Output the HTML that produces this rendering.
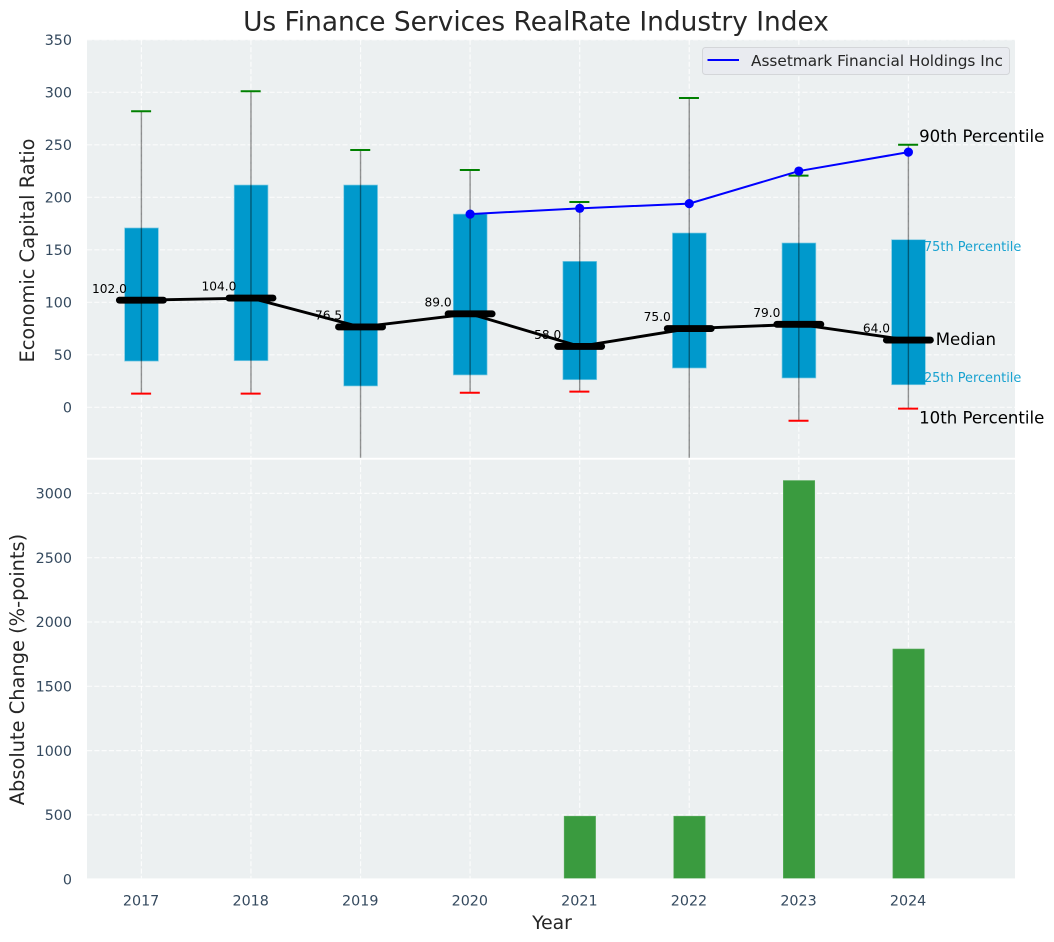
<!DOCTYPE html>
<html lang="en">
<head>
<meta charset="utf-8">
<title>Us Finance Services RealRate Industry Index</title>
<style>
html,body{margin:0;padding:0;background:#fff;}
body{width:1054px;height:942px;overflow:hidden;}
svg{display:block;font-family:"DejaVu Sans","Liberation Sans",sans-serif;}
</style>
</head>
<body>
<svg id="chart" xmlns="http://www.w3.org/2000/svg" width="1054" height="942" viewBox="0 0 1054 942">
  <defs>
    <clipPath id="top-clip"><rect x="87" y="39.8" width="928" height="418"></rect></clipPath>
    <clipPath id="bottom-clip"><rect x="87" y="459.7" width="928" height="418.7"></rect></clipPath>
  </defs>
  <rect x="87" y="39.8" width="928" height="418" fill="#ecf0f1"></rect>
  <rect x="87" y="459.7" width="928" height="418.7" fill="#ecf0f1"></rect>
  <g id="top-grid" clip-path="url(#top-clip)"></g>
  <g id="bottom-grid" clip-path="url(#bottom-clip)"></g>
  <g id="bars" clip-path="url(#bottom-clip)"></g>
  <g id="boxes" clip-path="url(#top-clip)"></g>
  <g id="whiskers" clip-path="url(#top-clip)"></g>
  <g id="median-labels"></g>
  <g id="median-series" clip-path="url(#top-clip)"></g>
  <g id="company-series" clip-path="url(#top-clip)"></g>
  <g id="ticks"></g>
  <g id="annotations"></g>

  <text x="536" y="30.5" text-anchor="middle" font-size="26.4px" fill="#262626">Us Finance Services RealRate Industry Index</text>
  <text transform="translate(34,250.5) rotate(-90)" text-anchor="middle" font-size="19.4px" fill="#262626">Economic Capital Ratio</text>
  <text transform="translate(24,669.5) rotate(-90)" text-anchor="middle" font-size="19.4px" fill="#262626">Absolute Change (%-points)</text>
  <text x="552" y="929" text-anchor="middle" font-size="18.8px" fill="#262626">Year</text>

  <g>
    <rect x="702.5" y="47.5" width="307" height="27" rx="3" ry="3" fill="#e9ebf0" stroke="#d4d6d9" stroke-width="1"></rect>
    <line x1="707.5" y1="60" x2="739" y2="60" stroke="#0000ff" stroke-width="2"></line>
    <text x="751" y="66" font-size="15.3px" fill="#262626">Assetmark Financial Holdings Inc</text>
  </g>
</svg>
<script>
const years = ["2017", "2018", "2019", "2020", "2021", "2022", "2023", "2024"];
const p90 = [282, 301, 245, 226, 195.5, 294.6, 220.6, 250];
const q3 = [170.8, 211.7, 211.7, 184, 139, 166, 156.5, 159.6];
const medians = [102, 104, 76.5, 89, 58, 75, 79, 64];
const medianLabels = ["102.0", "104.0", "76.5", "89.0", "58.0", "75.0", "79.0", "64.0"];
const q1 = [44, 44.4, 20.3, 30.8, 26.3, 37.4, 27.9, 21.5];
const p10 = [13, 13, -70, 13.9, 14.9, -70, -12.8, -1.3];
const company = [null, null, null, 184, 189.5, 194, 225, 243];
const absoluteChange = [0, 0, 0, 0, 490, 490, 3100, 1790];
const topTicks = [0, 50, 100, 150, 200, 250, 300, 350];
const bottomTicks = [0, 500, 1000, 1500, 2000, 2500, 3000];

const NS = 'http://www.w3.org/2000/svg';
const xPos = function (i) { return 141.4 + 109.57 * i; };
const yTop = function (v) { return 407.3 - 1.05 * v; };
const yBottom = function (v) { return 879.2 - 0.1286 * v; };
const group = function (id) { return document.getElementById(id); };
const mk = function (parent, tag, attrs, content) {
  const node = document.createElementNS(NS, tag);
  Object.keys(attrs).forEach(function (k) { node.setAttribute(k, attrs[k]); });
  if (content !== undefined) { node.textContent = content; }
  parent.appendChild(node);
  return node;
};
const gridStyle = {stroke: '#ffffff', 'stroke-width': 1.2, 'stroke-dasharray': '5.1 2.2', 'stroke-opacity': 0.8};
const lineAttrs = function (x1, y1, x2, y2, extra) {
  return Object.assign({x1: x1, y1: y1, x2: x2, y2: y2}, extra);
};

topTicks.forEach(function (t) {
  const g = mk(group('top-grid'), 'line', lineAttrs(87, yTop(t), 1015, yTop(t), gridStyle));
  
  
  const label = mk(group('ticks'), 'text', {x: 72, y: yTop(t) + 5.4, 'text-anchor': 'end', 'font-size': '14.3px', fill: '#34495e'}, String(t));
  
  
});

bottomTicks.forEach(function (t) {
  const g = mk(group('bottom-grid'), 'line', lineAttrs(87, yBottom(t), 1015, yBottom(t), gridStyle));
  
  
  const label = mk(group('ticks'), 'text', {x: 72, y: yBottom(t) + 5.2, 'text-anchor': 'end', 'font-size': '14.3px', fill: '#34495e'}, String(t));
  
  
});

years.forEach(function (year, i) {
  const x = xPos(i);

  const gridA = mk(group('top-grid'), 'line', lineAttrs(x, 39.8, x, 458, gridStyle));
  
  
  const gridB = mk(group('bottom-grid'), 'line', lineAttrs(x, 459.7, x, 878.4, gridStyle));
  
  

  const tick = mk(group('ticks'), 'text', {x: x - 0.3, y: 905.3, 'text-anchor': 'middle', 'font-size': '14.3px', fill: '#34495e'}, year);
  
  

  const bar = mk(group('bars'), 'rect', {x: x + 0.2 - 15.7, y: yBottom(absoluteChange[i]), width: 31.4, height: yBottom(0) - yBottom(absoluteChange[i]), fill: '#3a9b3f', stroke: '#5cae60', 'stroke-width': 0.6});
  
  

  const box = mk(group('boxes'), 'rect', {x: x + 0.1 - 16.9, y: yTop(q3[i]), width: 33.8, height: yTop(q1[i]) - yTop(q3[i]), fill: '#0099cc', stroke: '#7fcbe3', 'stroke-width': 0.7});
  
  

  const whisker = mk(group('whiskers'), 'line', lineAttrs(x, yTop(p90[i]), x, yTop(p10[i]), {stroke: '#000000', 'stroke-opacity': 0.42, 'stroke-width': 1.4}));
  
  

  const capHigh = mk(group('whiskers'), 'line', lineAttrs(x - 10.3, yTop(p90[i]), x + 9.7, yTop(p90[i]), {stroke: '#008000', 'stroke-width': 2}));
  
  

  const capLow = mk(group('whiskers'), 'line', lineAttrs(x - 10.3, yTop(p10[i]), x + 9.7, yTop(p10[i]), {stroke: '#ff0000', 'stroke-width': 2}));
  
  

  const valueLabel = mk(group('median-labels'), 'text', {x: x - 32, y: yTop(medians[i]) - 7.4, 'text-anchor': 'middle', 'font-size': '12.2px', fill: '#000000'}, medianLabels[i]);
  
  
});

const medianPath = mk(group('median-series'), 'polyline', {
  points: medians.map(function (m, i) { return xPos(i) + ',' + yTop(m); }).join(' '),
  fill: 'none', stroke: '#000000', 'stroke-width': 2.9
});



medians.forEach(function (m, i) {
  const x = xPos(i);
  const bar = mk(group('median-series'), 'line', lineAttrs(x - 22, yTop(m), x + 22, yTop(m), {stroke: '#000000', 'stroke-width': 6.9, 'stroke-linecap': 'round'}));
  
  
});

const companyPoints = [];
company.forEach(function (v, i) {
  if (v !== null) { companyPoints.push(xPos(i) + ',' + yTop(v)); }
});
const companyLine = mk(group('company-series'), 'polyline', {points: companyPoints.join(' '), fill: 'none', stroke: '#0000ff', 'stroke-width': 2});



company.forEach(function (v, i) {
  if (v === null) { return; }
  const dot = mk(group('company-series'), 'circle', {cx: xPos(i), cy: yTop(v), r: 4.6, fill: '#0000ff'});
  
  
});

const last = years.length - 1;
const lastX = xPos(last);

const note90 = mk(group('annotations'), 'text', {x: lastX + 10.7, y: yTop(p90[last]) - 3, 'font-size': '16.6px', fill: '#000000'}, '90th Percentile');



const note75 = mk(group('annotations'), 'text', {x: lastX + 15.6, y: yTop(q3[last]) + 11.3, 'font-size': '12.9px', fill: '#0099cc', 'fill-opacity': 0.9}, '75th Percentile');



const noteMedian = mk(group('annotations'), 'text', {x: lastX + 27.3, y: yTop(medians[last]) + 5, 'font-size': '16.6px', fill: '#000000'}, 'Median');



const note25 = mk(group('annotations'), 'text', {x: lastX + 15.6, y: yTop(q1[last]) - 2.7, 'font-size': '12.9px', fill: '#0099cc', 'fill-opacity': 0.9}, '25th Percentile');



const note10 = mk(group('annotations'), 'text', {x: lastX + 10.7, y: yTop(p10[last]) + 14.6, 'font-size': '16.6px', fill: '#000000'}, '10th Percentile');


</script>
</body>
</html>
